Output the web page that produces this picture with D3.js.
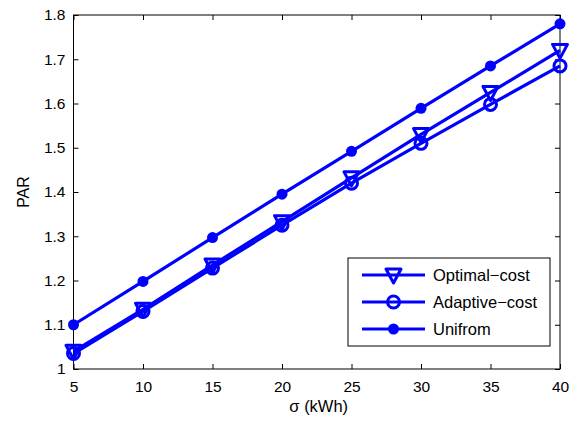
<!DOCTYPE html>
<html>
<head>
<meta charset="utf-8">
<script src="https://cdn.jsdelivr.net/npm/d3@7"></script>
<style>
  body { margin: 0; background: #fff; }
  svg text { font-family: "Liberation Sans", Arial, sans-serif; fill: #000; }
</style>
</head>
<body>
<div id="chart"></div>
<script>
// sigma values (kWh)
const sigma = [5, 10, 15, 20, 25, 30, 35, 40]
const optimalCost = [1.040, 1.135, 1.235, 1.333, 1.432, 1.530, 1.625, 1.720]
const adaptiveCost = [1.035, 1.130, 1.228, 1.325, 1.420, 1.510, 1.598, 1.685]
const unifrom = [1.100, 1.198, 1.297, 1.395, 1.492, 1.589, 1.685, 1.780]
const xTicks = [5, 10, 15, 20, 25, 30, 35, 40]
const yTicks = [1, 1.1, 1.2, 1.3, 1.4, 1.5, 1.6, 1.7, 1.8]

const series = [
  { name: 'Optimal\u2212cost', values: optimalCost, marker: 'tri' },
  { name: 'Adaptive\u2212cost', values: adaptiveCost, marker: 'open' },
  { name: 'Unifrom', values: unifrom, marker: 'dot' }
]

const W = 577, H = 422
const margin = { top: 15, right: 17, bottom: 53, left: 73.5 }
const width = W - margin.left - margin.right
const height = H - margin.top - margin.bottom
const blue = '#0000ff'

const svg = d3.select('#chart').append('svg')
  .attr('width', W).attr('height', H)
const g = svg.append('g')
  .attr('transform', 'translate(' + margin.left + ',' + margin.top + ')')

const x = d3.scaleLinear().domain([5, 40]).range([0, width])
const y = d3.scaleLinear().domain([1, 1.8]).range([height, 0])

// axes with inward ticks on all four sides
const fmt = d => d === 1 ? '1' : d3.format('.1f')(d)
g.append('g').attr('transform', 'translate(0,' + height + ')')
  .call(d3.axisBottom(x).tickValues(xTicks).tickSize(-5).tickPadding(12))
g.append('g').call(d3.axisTop(x).tickValues(xTicks).tickSize(-5).tickFormat(''))
g.append('g').call(d3.axisLeft(y).tickValues(yTicks).tickSize(-5).tickPadding(8).tickFormat(fmt))
g.append('g').attr('transform', 'translate(' + width + ',0)')
  .call(d3.axisRight(y).tickValues(yTicks).tickSize(-5).tickFormat(''))
g.selectAll('.domain').remove()
g.selectAll('.tick line').attr('stroke', '#000')
g.selectAll('.tick text').style('font-size', '15.5px')
g.append('rect').attr('width', width).attr('height', height)
  .attr('fill', 'none').attr('stroke', '#000').attr('stroke-width', 1)

const line = d3.line()
  .x((d, i) => x(sigma[i]))
  .y(d => y(d))

function drawMarker (sel, type, cx, cy) {
  if (type === 'tri') {
    sel.append('path')
      .attr('d', 'M' + (cx - 7.5) + ',' + (cy - 6) + 'L' + (cx + 7.5) + ',' + (cy - 6) + 'L' + cx + ',' + (cy + 8) + 'Z')
      .attr('fill', 'none').attr('stroke', blue).attr('stroke-width', 3)
      .attr('stroke-linejoin', 'round')
  } else if (type === 'open') {
    sel.append('circle').attr('cx', cx).attr('cy', cy).attr('r', 6)
      .attr('fill', 'none').attr('stroke', blue).attr('stroke-width', 3)
  } else {
    sel.append('circle').attr('cx', cx).attr('cy', cy).attr('r', 5.5)
      .attr('fill', blue)
  }
}

series.forEach(s => {
  g.append('path').datum(s.values)
    .attr('d', line)
    .attr('fill', 'none').attr('stroke', blue).attr('stroke-width', 3.2)
  const mg = g.append('g')
  s.values.forEach((v, i) => drawMarker(mg, s.marker, x(sigma[i]), y(v)))
})

// axis labels
svg.append('text').attr('x', margin.left + width / 2 + 2).attr('y', 412)
  .attr('text-anchor', 'middle').style('font-size', '16.5px').text('\u03c3 (kWh)')
svg.append('text').attr('transform', 'translate(29,' + (margin.top + height / 2) + ') rotate(-90)')
  .attr('text-anchor', 'middle').style('font-size', '16px').text('PAR')

// legend
const lg = svg.append('g').attr('transform', 'translate(348,258)')
lg.append('rect').attr('width', 202).attr('height', 88)
  .attr('fill', '#fff').attr('stroke', '#000').attr('stroke-width', 1)
series.forEach((s, i) => {
  const cy = 17 + i * 27
  lg.append('line').attr('x1', 14).attr('x2', 77).attr('y1', cy).attr('y2', cy)
    .attr('stroke', blue).attr('stroke-width', 3.2)
  drawMarker(lg, s.marker, 45.5, cy)
  lg.append('text').attr('x', 85).attr('y', cy + 6).style('font-size', '16.5px').text(s.name)
})
</script>
</body>
</html>
